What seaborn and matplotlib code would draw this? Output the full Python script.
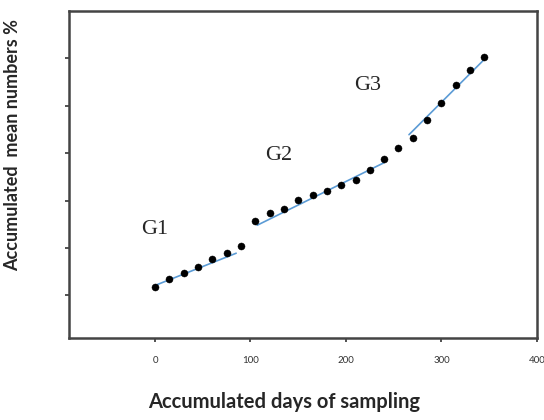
import numpy as np
import pandas as pd
import matplotlib
matplotlib.use("Agg")
import matplotlib.pyplot as plt
import seaborn as sns

# --- dados ---
dias = [0, 15, 30, 45, 60, 75, 90, 105, 120, 135, 150, 165,
        180, 195, 210, 225, 240, 255, 270, 285, 300, 315, 330, 345]
acumulado = [1.18, 1.34, 1.47, 1.60, 1.76, 1.89, 2.05, 2.58, 2.73, 2.82, 3.01, 3.12,
             3.21, 3.33, 3.44, 3.65, 3.88, 4.11, 4.32, 4.69, 5.06, 5.43, 5.75, 6.03]

# linhas de tendencia (inicio, fim) de cada grupo
tend_dias = {"G1": [0, 85], "G2": [107, 240], "G3": [266, 345]}
tend_vals = {"G1": [1.21, 1.89], "G2": [2.48, 3.80], "G3": [4.39, 5.98]}

# rotulos dos grupos (posicao em unidades de dados)
rotulos = ["G1", "G2", "G3"]
rotulo_x = [0, 130, 223]
rotulo_y = [2.38, 3.96, 5.42]

x_ticks = [0, 100, 200, 300, 400]
y_ticks = [1, 2, 3, 4, 5, 6]

df = pd.DataFrame({"dias": dias, "acumulado": acumulado})

sns.set_style("ticks")
plt.rcParams['font.family'] = ['Lato', 'DejaVu Sans']

fig = plt.figure(figsize=(5.44, 4.2), dpi=100)
ax = fig.add_axes([0.127, 0.195, 0.86, 0.779])

for g in rotulos:
    sns.lineplot(x=tend_dias[g], y=tend_vals[g], ax=ax, color="#5b9bd5", linewidth=1.2)

sns.scatterplot(data=df, x="dias", y="acumulado", ax=ax, color="black",
                s=26, edgecolor="black", linewidth=0.3, zorder=3)

for r, xr, yr in zip(rotulos, rotulo_x, rotulo_y):
    ax.text(xr, yr, r, fontsize=16, family="Liberation Serif", ha="center", va="center")

ax.set_xlim(-90, 400)
ax.set_ylim(0.1, 7.0)
ax.set_xticks(x_ticks)
ax.set_yticks(y_ticks)
ax.set_yticklabels([])
ax.tick_params(axis="x", labelsize=7, length=3, width=1.2, colors="#333333", pad=10)
ax.tick_params(axis="y", length=3, width=1.2, colors="#333333")

for s in ax.spines.values():
    s.set_visible(True)
    s.set_color("#444444")
    s.set_linewidth(1.8)

ax.set_xlabel("Accumulated days of sampling", fontsize=14.5, fontweight="bold")
ax.set_ylabel("Accumulated  mean numbers %", fontsize=13, fontweight="bold")
ax.xaxis.set_label_coords(0.459, -0.165)
ax.yaxis.set_label_coords(-0.103, 0.59)

plt.savefig("out.png", dpi=100)
